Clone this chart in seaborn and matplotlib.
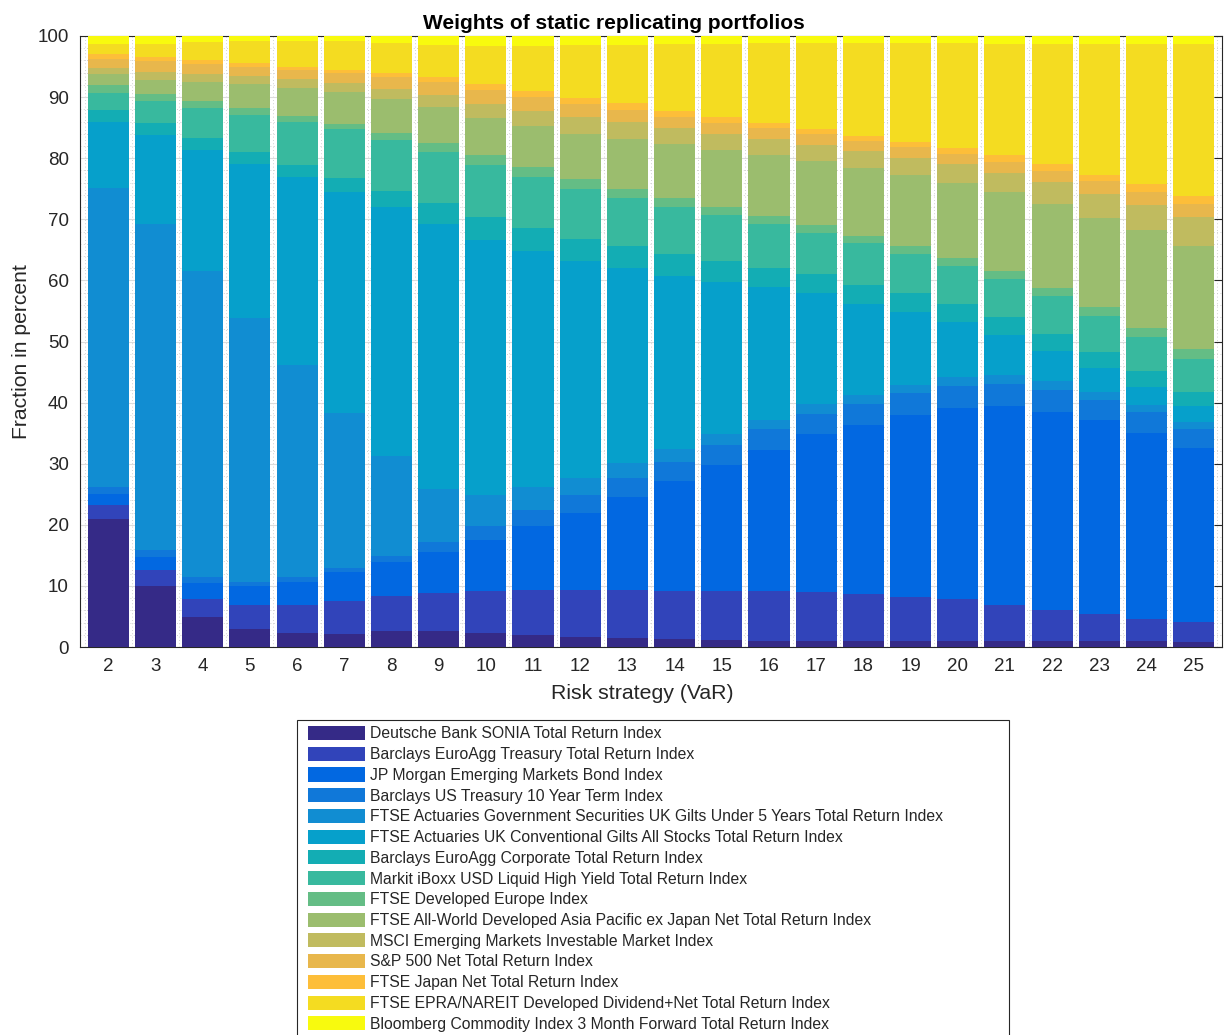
import numpy as np
import pandas as pd
import matplotlib
matplotlib.use("Agg")
import matplotlib.pyplot as plt
from matplotlib.patches import Patch, Rectangle
from matplotlib.ticker import MultipleLocator
import seaborn as sns

# --- Data (percent weights per risk strategy) ---
strategies = list(range(2, 26))

assets = [
    "Deutsche Bank SONIA Total Return Index",
    "Barclays EuroAgg Treasury Total Return Index",
    "JP Morgan Emerging Markets Bond Index",
    "Barclays US Treasury 10 Year Term Index",
    "FTSE Actuaries Government Securities UK Gilts Under 5 Years Total Return Index",
    "FTSE Actuaries UK Conventional Gilts All Stocks Total Return Index",
    "Barclays EuroAgg Corporate Total Return Index",
    "Markit iBoxx USD Liquid High Yield Total Return Index",
    "FTSE Developed Europe Index",
    "FTSE All-World Developed Asia Pacific ex Japan Net Total Return Index",
    "MSCI Emerging Markets Investable Market Index",
    "S&P 500 Net Total Return Index",
    "FTSE Japan Net Total Return Index",
    "FTSE EPRA/NAREIT Developed Dividend+Net Total Return Index",
    "Bloomberg Commodity Index 3 Month Forward Total Return Index",
]

sonia = [21.0, 10.0, 4.9, 3.0, 2.3, 2.2, 2.6, 2.6, 2.3, 1.9, 1.6, 1.4, 1.3, 1.2, 1.0, 1.0, 1.0, 1.0, 1.0, 1.0, 1.0, 1.0, 1.0, 0.8]
euroagg_treasury = [2.2, 2.6, 3.0, 3.8, 4.5, 5.4, 5.7, 6.3, 6.9, 7.4, 7.7, 7.9, 7.8, 7.9, 8.1, 8.0, 7.6, 7.2, 6.8, 5.9, 5.1, 4.4, 3.6, 3.3]
jpm_em_bond = [1.9, 2.2, 2.6, 3.2, 3.9, 4.6, 5.6, 6.7, 8.3, 10.5, 12.7, 15.3, 18.0, 20.7, 23.2, 25.9, 27.8, 29.7, 31.3, 32.6, 32.4, 31.7, 30.5, 28.5]
us_treasury_10y = [1.1, 1.1, 1.0, 0.7, 0.8, 0.8, 1.0, 1.6, 2.3, 2.7, 2.9, 3.1, 3.2, 3.3, 3.3, 3.2, 3.3, 3.6, 3.6, 3.6, 3.6, 3.4, 3.3, 3.0]
uk_gilts_u5 = [48.9, 53.3, 50.1, 43.1, 34.6, 25.3, 16.4, 8.7, 5.1, 3.7, 2.8, 2.4, 2.1, 1.8, 1.6, 1.6, 1.5, 1.4, 1.5, 1.4, 1.5, 1.3, 1.2, 1.2]
uk_gilts_all = [10.9, 14.6, 19.7, 25.2, 30.8, 36.1, 40.7, 43.3, 41.7, 38.6, 35.4, 31.9, 28.4, 24.9, 21.7, 18.2, 15.0, 11.9, 9.0, 6.5, 4.9, 3.8, 3.0, 2.7]
euroagg_corp = [1.9, 1.9, 2.0, 2.0, 2.0, 2.3, 2.7, 3.4, 3.8, 3.7, 3.6, 3.6, 3.5, 3.3, 3.1, 3.1, 3.1, 3.1, 2.9, 3.0, 2.8, 2.7, 2.5, 2.2]
iboxx_hy = [2.8, 3.7, 4.9, 6.1, 7.0, 8.0, 8.3, 8.4, 8.5, 8.4, 8.3, 7.9, 7.7, 7.6, 7.2, 6.8, 6.8, 6.4, 6.3, 6.2, 6.1, 5.8, 5.6, 5.5]
dev_europe = [1.2, 1.1, 1.2, 1.1, 1.0, 0.9, 1.2, 1.5, 1.6, 1.7, 1.6, 1.4, 1.5, 1.3, 1.3, 1.2, 1.2, 1.3, 1.2, 1.4, 1.3, 1.5, 1.5, 1.5]
asia_pacific = [1.8, 2.3, 3.1, 3.9, 4.6, 5.3, 5.5, 5.8, 6.1, 6.6, 7.4, 8.2, 8.8, 9.3, 10.0, 10.5, 11.1, 11.7, 12.4, 12.8, 13.8, 14.6, 16.0, 16.9]
msci_em = [1.0, 1.3, 1.3, 1.4, 1.4, 1.4, 1.7, 2.0, 2.3, 2.5, 2.7, 2.8, 2.6, 2.6, 2.7, 2.6, 2.8, 2.8, 3.0, 3.2, 3.6, 3.9, 4.2, 4.7]
sp500 = [1.5, 1.8, 1.6, 1.5, 1.6, 1.6, 1.9, 2.2, 2.3, 2.3, 2.1, 2.0, 1.9, 1.8, 1.7, 1.8, 1.6, 1.7, 1.7, 1.8, 1.8, 2.1, 2.0, 2.2]
ftse_japan = [0.8, 0.6, 0.6, 0.5, 0.4, 0.5, 0.6, 0.8, 0.9, 1.0, 1.0, 1.1, 1.0, 1.0, 0.9, 0.9, 0.9, 0.9, 0.9, 1.1, 1.1, 1.1, 1.3, 1.3]
epra_nareit = [1.7, 2.2, 3.0, 3.6, 4.3, 4.7, 5.0, 5.3, 6.3, 7.4, 8.7, 9.6, 10.9, 12.0, 13.0, 14.0, 15.1, 16.1, 17.2, 18.2, 19.7, 21.4, 23.0, 24.9]
bbg_commodity = [1.3, 1.3, 1.0, 0.9, 0.8, 0.9, 1.1, 1.4, 1.6, 1.6, 1.5, 1.4, 1.3, 1.3, 1.2, 1.2, 1.2, 1.2, 1.2, 1.3, 1.3, 1.3, 1.3, 1.3]

weights = [sonia, euroagg_treasury, jpm_em_bond, us_treasury_10y, uk_gilts_u5,
           uk_gilts_all, euroagg_corp, iboxx_hy, dev_europe, asia_pacific,
           msci_em, sp500, ftse_japan, epra_nareit, bbg_commodity]

# parula-like colours, bottom to top
colors = ["#352a87", "#3144ba", "#0268e1", "#1078d9", "#118dd2", "#06a0cb",
          "#13adb4", "#38b99e", "#64bd85", "#9bbd6e", "#c0bb5f", "#e8b74c",
          "#fdbe39", "#f4dc21", "#f8fa0e"]

rows = []
for name, vals in zip(assets, weights):
    for s, w in zip(strategies, vals):
        rows.append((s, name, w))
df = pd.DataFrame(rows, columns=["strategy", "asset", "weight"])

# --- Plot ---
sns.set_style("white")
plt.rcParams["font.family"] = ["Liberation Sans", "DejaVu Sans"]

fig = plt.figure(figsize=(12.25, 10.35), dpi=100)
ax = fig.add_axes([80 / 1225, 1 - 647 / 1035, (1222 - 80) / 1225, (647 - 36) / 1035])

# seaborn stacks the last hue level at the bottom, so reverse the order
sns.histplot(data=df, x="strategy", weights="weight", hue="asset",
             hue_order=assets[::-1], palette=dict(zip(assets, colors)),
             multiple="stack", discrete=True, shrink=0.87, element="bars",
             fill=True, alpha=1, linewidth=0, legend=False, ax=ax)

ax.set_xlim(1.4, 25.6)
ax.set_ylim(0, 100)
ax.set_xticks(strategies)
ax.set_yticks(range(0, 101, 10))
ax.xaxis.set_minor_locator(MultipleLocator(0.5))
ax.yaxis.set_minor_locator(MultipleLocator(2))
ax.set_axisbelow(True)
ax.grid(which="major", color="#dcdcdc", lw=0.8, ls="-")
ax.grid(which="minor", color="#c4c4c4", lw=0.6, ls=(0, (1, 3)))
ax.tick_params(which="major", direction="in", length=6, width=0.8, color="#262626",
               labelsize=13.5, labelcolor="#262626", top=True, right=True, pad=8)
ax.tick_params(which="minor", length=0)
for sp in ax.spines.values():
    sp.set_color("#262626")
    sp.set_linewidth(0.8)
    sp.set_zorder(0.6)

ax.set_title("Weights of static replicating portfolios", fontsize=15,
             fontweight="bold", color="black", pad=5, x=(614 - 80) / 1142)
ax.set_xlabel("Risk strategy (VaR)", fontsize=15.3, color="#262626")
ax.set_ylabel("Fraction in percent", fontsize=15.2, color="#262626")
ax.xaxis.set_label_coords((642 - 80) / 1142, -0.061)
ax.yaxis.set_label_coords(-0.043, (647 - 352) / 611)

handles = [Patch(facecolor=c, edgecolor="none") for c in colors]
fig.legend(handles, assets, loc="upper left",
           bbox_to_anchor=(308 / 1225, 1 - 726 / 1035),
           frameon=False, fontsize=11.3, handlelength=3.6, handleheight=1.0,
           handletextpad=0.32, labelspacing=0.34, borderpad=0, borderaxespad=0)
fig.patches.append(Rectangle((297 / 1225, -0.01), (1009 - 297) / 1225,
                             1 - 720 / 1035 + 0.01, transform=fig.transFigure,
                             fill=False, edgecolor="#262626", lw=0.8))

fig.savefig("out.png", dpi=100)
